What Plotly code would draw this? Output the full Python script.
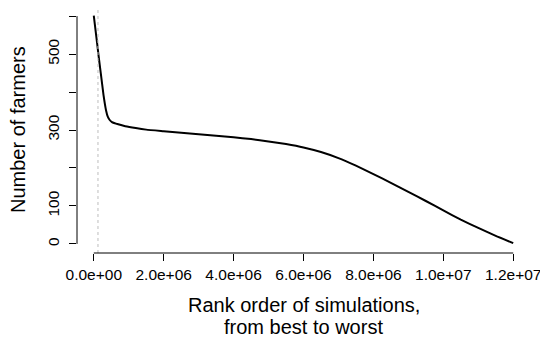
import plotly.graph_objects as go

# Simulations ranked from best to worst (rank in millions) and farmer counts
rank_millions = [0, 0.07, 0.137, 0.2, 0.28, 0.35, 0.4, 0.45, 0.52, 0.7, 0.9, 1.2,
                 1.5, 2.0, 2.5, 3.0, 3.5, 4.0, 4.5, 5.0, 5.5, 6.0, 6.5, 7.0, 7.5,
                 8.0, 8.5, 9.0, 9.5, 10.0, 10.5, 11.0, 11.5, 12.0]
farmers = [601, 548, 496, 450, 391, 352, 335, 327, 321, 315, 310, 305,
           301, 297, 293, 289, 285, 281, 276, 270, 263, 254, 242, 226, 206,
           184, 161, 137, 113, 88, 64, 42, 21, 2]
cutoff_rank = 0.12e6

x_ticks = [0, 2e6, 4e6, 6e6, 8e6, 1e7, 1.2e7]
x_tick_labels = ["0.0e+00", "2.0e+06", "4.0e+06", "6.0e+06", "8.0e+06", "1.0e+07", "1.2e+07"]
y_ticks = [0, 100, 200, 300, 400, 500, 600]
y_tick_labels = ["0", "100", "", "300", "", "500", ""]

W, H = 540, 339
ML, MR, MT, MB = 77, 10, 7, 86
plot_h = H - MT - MB
FONT = "Liberation Sans, Arial, Helvetica, sans-serif"


def paper_y(px):
    return (H - MB - px) / plot_h


ranks = [r * 1e6 for r in rank_millions]

fig = go.Figure()
fig.add_trace(go.Scatter(
    x=ranks, y=farmers, mode="lines",
    line=dict(color="black", width=2, shape="spline", smoothing=0.4),
    hoverinfo="skip", showlegend=False,
))

# dotted reference line
fig.add_shape(type="line", xref="x", yref="paper", x0=cutoff_rank, x1=cutoff_rank,
              y0=0, y1=1, line=dict(color="#bdbdbd", width=1, dash="dot"))
# R-style axis lines covering only the tick range
fig.add_shape(type="line", xref="paper", yref="y", x0=0, x1=0, y0=0, y1=600,
              line=dict(color="black", width=1))
fig.add_shape(type="line", xref="x", yref="paper", x0=0, x1=1.2e7, y0=0, y1=0,
              line=dict(color="black", width=1))

fig.add_annotation(text="Number of farmers", xref="paper", yref="paper",
                   x=(18 - ML) / (W - ML - MR), y=0.5, textangle=-90,
                   showarrow=False, xanchor="center", yanchor="middle",
                   font=dict(size=20, color="black", family=FONT))
fig.add_annotation(text="Rank order of simulations,", xref="paper", yref="paper",
                   x=0.5, y=paper_y(305), showarrow=False,
                   xanchor="center", yanchor="middle",
                   font=dict(size=20, color="black", family=FONT))
fig.add_annotation(text="from best to worst", xref="paper", yref="paper",
                   x=0.5, y=paper_y(327), showarrow=False,
                   xanchor="center", yanchor="middle",
                   font=dict(size=20, color="black", family=FONT))

fig.update_layout(
    width=W, height=H,
    margin=dict(l=ML, r=MR, t=MT, b=MB, pad=0, autoexpand=False),
    paper_bgcolor="white", plot_bgcolor="white",
    font=dict(family=FONT, color="black"),
    xaxis=dict(range=[-0.48e6, 12.48e6], showgrid=False, zeroline=False,
               showline=False, tickmode="array", tickvals=x_ticks,
               ticktext=x_tick_labels, ticks="outside", ticklen=7,
               tickwidth=1, tickcolor="black", ticklabeloverflow="allow",
               automargin=False,
               tickfont=dict(size=15.5, color="black", family=FONT)),
    yaxis=dict(range=[-24, 624], showgrid=False, zeroline=False,
               showline=False, tickmode="array", tickvals=y_ticks,
               ticktext=y_tick_labels, ticks="outside", ticklen=7,
               tickwidth=1, tickcolor="black", tickangle=-90,
               ticklabelstandoff=4, automargin=False,
               tickfont=dict(size=15.5, color="black", family=FONT)),
)

fig.write_html("out.html")
